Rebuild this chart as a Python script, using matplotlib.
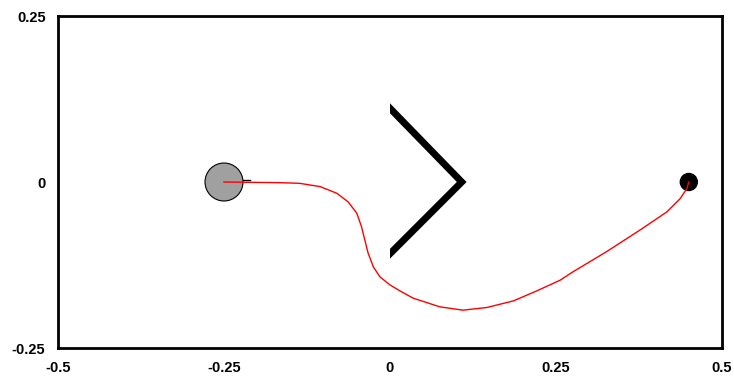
import matplotlib.pyplot as plt
from matplotlib.patches import Circle, Rectangle

plt.rcParams['font.family'] = ['Liberation Sans', 'DejaVu Sans']

# robot start, goal and obstacle
start_xy = (-0.25, 0.0)
start_radius = 0.0286
heading_len = 0.039
goal_xy = (0.45, 0.0)
goal_radius = 0.0128
chevron_x = [0.0, 0.108, 0.0]
chevron_y = [0.111, 0.0, -0.108]

# trajectory
path_x = [-0.250, -0.166, -0.136, -0.105, -0.080, -0.063, -0.050, -0.043, -0.038,
          -0.033, -0.025, -0.015, 0.000, 0.015, 0.035, 0.075, 0.110, 0.146, 0.186,
          0.221, 0.256, 0.276, 0.326, 0.377, 0.417, 0.437, 0.447, 0.450]
path_y = [0.000, -0.001, -0.002, -0.007, -0.017, -0.030, -0.047, -0.067, -0.087,
          -0.107, -0.128, -0.143, -0.155, -0.164, -0.175, -0.188, -0.193, -0.189, -0.179,
          -0.164, -0.148, -0.135, -0.105, -0.072, -0.045, -0.025, -0.010, 0.000]

xticks = [-0.5, -0.25, 0, 0.25, 0.5]
xtick_labels = ['-0.5', '-0.25', '0', '0.25', '0.5']
yticks = [-0.25, 0, 0.25]
ytick_labels = ['-0.25', '0', '0.25']

fig = plt.figure(figsize=(7.34, 3.77), dpi=100)
ax = fig.add_axes([58 / 734, 29 / 377, 664 / 734, 332 / 377])

ax.plot([start_xy[0], start_xy[0] + heading_len], [0.0023, 0.0023], color='black', lw=1, zorder=2)
ax.add_patch(Circle(start_xy, start_radius, facecolor='#a0a0a0', edgecolor='black', lw=0.8, zorder=3))
ax.add_patch(Circle(goal_xy, goal_radius, facecolor='black', edgecolor='black', zorder=3))

# wall ends are cut flush at x = 0
chev, = ax.plot(chevron_x, chevron_y, color='black', lw=5, solid_capstyle='projecting',
                solid_joinstyle='miter', zorder=2)
clip = Rectangle((0, -0.25), 0.5, 0.5, transform=ax.transData)
chev.set_clip_path(clip)

ax.plot(path_x, path_y, color='red', lw=1, zorder=4)

ax.set_xlim(-0.5, 0.5)
ax.set_ylim(-0.25, 0.25)
ax.set_xticks(xticks)
ax.set_xticklabels(xtick_labels)
ax.set_yticks(yticks)
ax.set_yticklabels(ytick_labels)
ax.tick_params(length=0, labelsize=10.5, pad=9)
for lab in ax.get_xticklabels() + ax.get_yticklabels():
    lab.set_fontweight('bold')
for sp in ax.spines.values():
    sp.set_linewidth(2)

fig.savefig('out.png', dpi=100)
